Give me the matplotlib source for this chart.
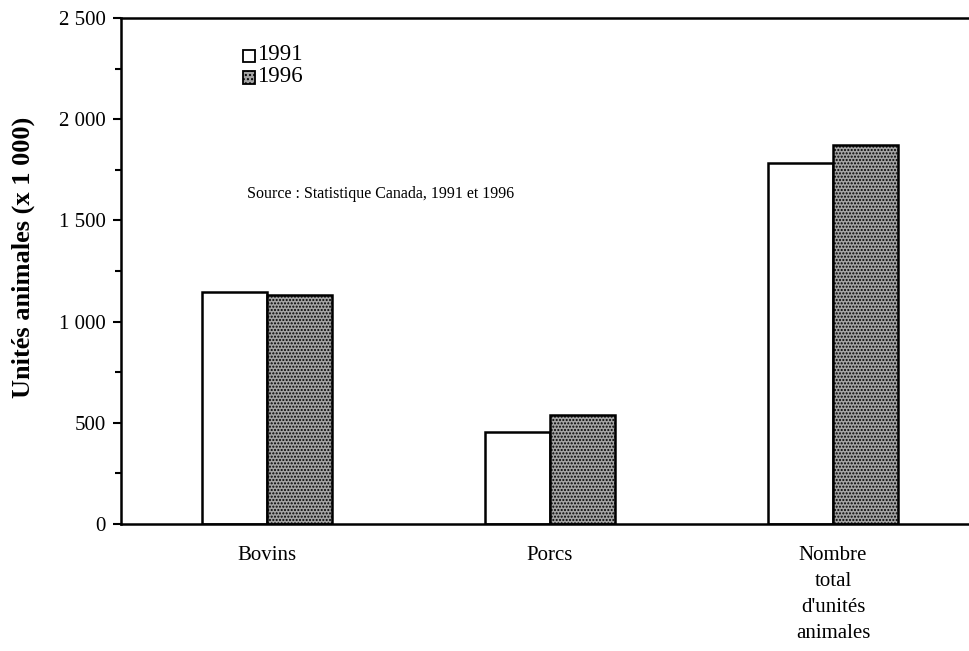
import numpy as np
import matplotlib.pyplot as plt
from matplotlib.patches import Rectangle

categories = ['Bovins', 'Porcs', "Nombre\ntotal\nd'unités\nanimales"]
ua_1991 = [1146, 455, 1784]
ua_1996 = [1131, 538, 1873]
yticks = [0, 500, 1000, 1500, 2000, 2500]
ytick_labels = ['0', '500', '1 000', '1 500', '2 000', '2 500']

plt.rcParams['font.family'] = ['Liberation Serif', 'DejaVu Serif']
plt.rcParams['hatch.linewidth'] = 1.0

fig = plt.figure(figsize=(9.70, 6.51), dpi=100)
ax = fig.add_axes([0.1247, 0.1951, 0.8753, 0.7773])

x = np.arange(len(categories))
w = 0.23
ax.bar(x - w / 2, ua_1991, w, facecolor='white', edgecolor='black', linewidth=1.8)
ax.bar(x + w / 2, ua_1996, w, facecolor='#a4a4a4', edgecolor='black',
       linewidth=1.8, hatch='.....')

ax.set_xlim(-0.516, 2.484)
ax.set_ylim(0, 2500)
ax.set_yticks(yticks)
ax.set_yticklabels(ytick_labels, fontsize=15)
ax.set_yticks(np.arange(250, 2500, 500), minor=True)
ax.tick_params(axis='y', which='major', direction='out', length=6, width=1.5, pad=5)
ax.tick_params(axis='y', which='minor', direction='out', length=4, width=1.5)
ax.set_xticks(x)
ax.set_xticklabels(categories, fontsize=15, linespacing=1.5)
ax.tick_params(axis='x', length=0, pad=16)

ax.spines['right'].set_visible(False)
for s in ['left', 'bottom', 'top']:
    ax.spines[s].set_linewidth(1.8)

ax.set_ylabel('Unités animales (x 1 000)', fontsize=19, fontweight='bold')
ax.yaxis.set_label_coords(-0.101, 0.526)

# legend drawn by hand: small boxes with year labels
fig.add_artist(Rectangle((243 / 970, 1 - 62 / 651), 12 / 970, 12 / 651,
                         transform=fig.transFigure, facecolor='white',
                         edgecolor='black', linewidth=1.3))
fig.add_artist(Rectangle((243 / 970, 1 - 83.5 / 651), 12 / 970, 12 / 651,
                         transform=fig.transFigure, facecolor='#a4a4a4',
                         edgecolor='black', linewidth=1.3, hatch='....'))
fig.text(257 / 970, 1 - 54 / 651, '1991', fontsize=16.5, va='center')
fig.text(257 / 970, 1 - 76 / 651, '1996', fontsize=16.5, va='center')

fig.text(247 / 970, 1 - 194 / 651, 'Source : Statistique Canada, 1991 et 1996',
         fontsize=11.5, va='center')

fig.savefig('out.png', dpi=100)
